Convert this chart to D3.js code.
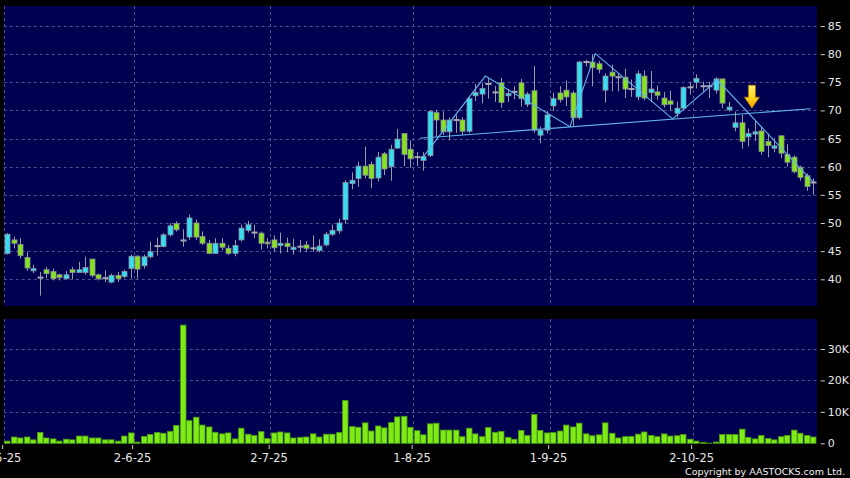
<!DOCTYPE html>
<html><head><meta charset="utf-8">
<script src="https://cdn.jsdelivr.net/npm/d3@7/dist/d3.min.js"></script>
<style>html,body{margin:0;padding:0;background:#000;overflow:hidden}svg{display:block}</style>
</head><body>
<svg id="chart" width="850" height="478"></svg>
<script>
// ---------- data ----------
const openP  = [44.6,47.0,46.2,43.9,41.5,40.3,41.7,41.4,40.8,40.1,41.7,41.2,41.2,43.6,40.8,40.2,39.5,40.7,40.5,41.9,
                44.1,42.4,44.0,45.9,45.8,47.9,49.9,46.9,47.5,50.0,47.6,46.4,44.6,46.4,45.5,44.6,47.0,48.7,48.3,48.2,
                46.6,47.0,46.0,46.4,45.3,45.8,46.1,45.5,45.1,46.1,48.0,48.6,50.6,57.0,57.9,60.1,60.4,58.0,62.3,60.0,
                63.3,65.9,63.1,61.7,61.1,62.0,69.6,68.3,66.2,68.3,68.3,66.3,72.6,72.9,74.7,73.2,74.9,72.6,73.3,74.9,
                71.1,73.5,65.6,66.5,70.8,73.1,73.6,73.1,68.7,78.6,78.6,78.3,73.6,76.8,75.9,75.9,73.8,72.4,76.1,73.2,
                73.3,72.2,71.7,69.5,70.4,74.1,75.0,74.3,74.3,73.6,75.6,70.1,67.0,67.8,65.3,65.8,66.35,64.5,63.3,65.5,
                62.2,61.7,59.9,58.4,57.2];
const highP  = [48.2,47.6,47.3,44.9,42.6,41.3,42.2,41.9,41.0,41.5,42.2,43.1,44.0,43.6,41.0,41.6,41.0,41.3,41.7,44.4,
                44.3,44.4,46.7,47.4,48.2,50.0,50.3,48.9,51.5,50.6,48.5,47.0,47.3,47.3,46.1,47.0,49.7,50.4,49.7,48.5,
                47.3,47.8,48.3,47.4,47.2,47.0,46.8,47.8,47.1,48.4,49.7,50.8,57.6,59.0,60.9,63.6,60.9,62.6,62.6,63.9,
                66.7,65.9,64.7,62.6,62.6,70.1,70.1,69.8,68.75,69.2,68.8,72.4,74.7,74.9,75.7,74.3,75.8,73.8,74.3,75.6,
                73.3,77.9,67.1,69.9,73.1,74.3,75.3,73.5,78.8,79.0,79.9,78.8,76.6,78.1,76.6,77.4,75.5,77.1,77.1,77.0,
                74.4,73.3,73.5,71.6,74.3,75.1,76.4,75.1,75.1,75.9,75.6,71.5,69.8,69.2,66.8,68.2,67.1,65.9,65.1,65.5,
                64.0,62.0,60.2,58.8,57.9];
const lowP   = [44.4,45.5,43.7,41.5,41.1,37.1,40.2,39.8,39.8,40.0,40.0,41.2,40.8,40.3,39.8,39.5,39.3,39.5,40.2,40.2,
                40.1,41.9,43.7,44.2,45.7,47.6,48.5,45.8,47.0,47.0,46.1,44.5,44.5,45.2,44.3,44.1,46.7,48.3,47.3,45.3,
                45.5,44.9,44.6,44.8,44.4,44.8,44.8,44.9,44.8,45.8,47.7,48.1,49.9,56.0,56.4,57.9,56.2,57.4,58.5,57.5,
                63.2,60.1,59.8,60.1,59.3,61.7,65.3,65.6,64.7,66.0,65.6,66.0,71.7,71.25,72.1,71.5,70.5,71.5,72.0,70.7,
                70.6,66.0,64.2,65.9,69.9,71.4,70.8,67.2,68.4,77.8,74.3,76.6,71.4,73.4,73.4,72.2,72.4,71.8,71.8,71.5,
                71.9,70.5,70.0,68.8,70.0,72.8,73.9,73.4,72.2,73.0,70.4,69.8,66.3,63.2,63.6,64.6,62.1,61.7,62.6,61.5,
                60.0,58.8,57.5,55.7,55.0];
const closeP = [48.0,46.4,44.2,42.0,41.9,40.3,41.0,40.1,40.3,40.8,41.2,41.7,42.1,40.7,40.1,40.2,40.7,40.1,41.4,44.1,
                41.8,44.0,44.9,45.9,47.9,49.5,48.8,46.9,50.9,47.5,46.4,44.6,46.4,45.7,44.6,46.0,49.1,49.7,48.3,46.4,
                46.3,45.6,46.4,45.8,45.7,45.8,45.5,45.5,45.9,48.0,48.7,50.0,57.2,57.6,60.1,58.5,57.9,61.7,59.6,63.1,
                64.9,62.2,61.4,61.7,61.8,69.8,68.3,66.2,68.3,68.3,66.3,72.1,73.2,73.9,74.7,73.2,71.4,73.0,73.3,72.1,
                72.9,66.5,66.5,69.2,72.1,71.9,72.4,68.7,78.6,78.6,77.6,77.3,76.1,76.1,75.9,73.8,73.8,76.5,72.2,73.8,
                72.7,71.0,71.1,70.4,74.1,74.1,75.7,74.3,74.3,75.6,71.3,70.6,67.8,64.5,65.9,66.2,62.7,63.75,63.7,62.4,
                60.8,59.1,58.1,56.5,57.2];
// volume in thousands of shares
const volumeK = [0.7,2.0,1.7,2.0,1.1,3.5,1.7,1.4,0.7,1.3,1.1,2.3,2.3,1.7,1.7,1.1,1.1,0.7,2.3,3.3,
                 0.4,2.2,2.8,3.4,3.2,3.8,5.7,37.6,7.2,8.3,5.8,5.2,3.5,3.0,3.3,1.4,4.8,2.9,2.5,3.7,
                 1.5,3.3,3.6,3.3,1.7,1.9,2.0,3.0,2.0,2.9,2.9,3.4,13.6,5.3,5.1,6.5,3.9,5.5,4.9,6.6,
                 8.4,8.6,5.1,4.0,2.7,6.2,6.4,4.2,4.2,4.2,2.1,4.8,3.0,2.1,5.0,3.5,3.8,1.9,1.3,4.1,
                 2.5,9.2,4.1,3.3,3.4,3.9,5.8,5.2,6.4,3.0,2.4,2.7,6.5,3.2,1.7,2.1,2.2,2.9,3.6,2.5,
                 2.1,3.0,2.3,2.4,2.8,1.3,0.7,0.3,0.05,0.4,2.8,2.8,2.8,4.5,1.9,1.4,2.5,1.5,1.1,2.1,
                 2.5,4.2,3.2,2.5,2.0];
const tickLabels = ["2-5-25","2-6-25","2-7-25","1-8-25","1-9-25","2-10-25"];
const tickIndex  = [0,20,41,63,84,106];          // first trading day of each month
const priceTicks = [40,45,50,55,60,65,70,75,80,85];
const volumeTicks = [0,10,20,30];                // thousands
const zigzagIdx = [64,73.6,86.6,90.5,102.4,109.3,124];
const zigzagVal = [61.7,76.1,67.1,80.1,68.5,75.4,57.3];
const necklineIdx = [63.5,123.6];
const necklineVal = [65.05,70.3];
const arrowIdx = 114.6, arrowVal = 70.4;
const copyright = "Copyright by AASTOCKS.com Ltd.";

// ---------- layout ----------
const N = openP.length;
const svg = d3.select("#chart");
const panelL = 3.75, panelR = 816.25;
const pTop = 6, pBot = 306, vTop = 319, vBot = 444;
const BG = "#000050", GRID = "#50508c";
const UP = "#35def0", DOWN = "#86e41e", BORDER = "#8c8c9c", WICK = "#9a9aa6";
const LINE = "#62b4ea";

svg.append("rect").attr("width",850).attr("height",478).attr("fill","#000");

const x = d3.scaleBand().domain(d3.range(N)).range([panelL, panelR]).padding(0);
const step = x.step();
const cx = i => x(Math.floor(i)) + step/2 + (i - Math.floor(i))*step;
const xIdx = d3.scaleLinear().domain([0, N-1]).range([cx(0), cx(N-1)]);
const y = d3.scaleLinear().domain([40,85]).range([279.3,26]);
const yv = d3.scaleLinear().domain([0,30]).range([443.3,349]);

// panels
[[pTop,pBot],[vTop,vBot]].forEach(([t,b])=>{
  svg.append("rect").attr("x",panelL).attr("y",t).attr("width",panelR-panelL+0.75).attr("height",b-t).attr("fill",BG);
});

const gridG = svg.append("g").attr("stroke",GRID).attr("stroke-width",1).attr("stroke-dasharray","3,3").attr("fill","none");
priceTicks.forEach(v=>{
  const yy = Math.round(y(v))+0.5;
  gridG.append("line").attr("x1",panelL).attr("x2",panelR).attr("y1",yy).attr("y2",yy);
});
volumeTicks.filter(v=>v>0).forEach(v=>{
  const yy = Math.round(yv(v))+0.5;
  gridG.append("line").attr("x1",panelL).attr("x2",panelR).attr("y1",yy).attr("y2",yy);
});
tickIndex.forEach(i=>{
  const xx = Math.round(x(i))+0.5;
  gridG.append("line").attr("x1",xx).attr("x2",xx).attr("y1",pTop).attr("y2",pBot);
  gridG.append("line").attr("x1",xx).attr("x2",xx).attr("y1",vTop).attr("y2",vBot);
});

// ---------- candles ----------
const bodyW = 5;
const cg = svg.append("g");
d3.range(N).forEach(i=>{
  const xc = Math.round(cx(i));
  const o = openP[i], c = closeP[i], h = highP[i], l = lowP[i];
  cg.append("line").attr("x1",xc+0.5).attr("x2",xc+0.5)
    .attr("y1",y(h)).attr("y2",y(l)).attr("stroke",WICK).attr("stroke-width",1);
  if (Math.abs(o-c) < 0.05) {
    cg.append("rect").attr("x",xc-2.5).attr("y",y(c)-1).attr("width",bodyW+1).attr("height",2)
      .attr("fill","#a8a8b4");
  } else {
    const top = y(Math.max(o,c)), bot = y(Math.min(o,c));
    cg.append("rect").attr("x",xc-2).attr("y",top).attr("width",bodyW).attr("height",Math.max(1,bot-top))
      .attr("fill", c>o ? UP : DOWN).attr("stroke",BORDER).attr("stroke-width",0.8);
  }
});

// ---------- pattern lines ----------
const lineGen = d3.line().x(d=>xIdx(d[0])).y(d=>y(d[1]));
svg.append("path").datum(d3.zip(zigzagIdx,zigzagVal)).attr("d",lineGen)
  .attr("fill","none").attr("stroke",LINE).attr("stroke-width",1.1);
svg.append("path").datum(d3.zip(necklineIdx,necklineVal)).attr("d",lineGen)
  .attr("fill","none").attr("stroke",LINE).attr("stroke-width",1.1);

// arrow
const defs = svg.append("defs");
const grad = defs.append("linearGradient").attr("id","arrowGrad").attr("x1",0).attr("x2",0).attr("y1",0).attr("y2",1);
grad.append("stop").attr("offset","0%").attr("stop-color","#fff27a");
grad.append("stop").attr("offset","55%").attr("stop-color","#ffd21a");
grad.append("stop").attr("offset","100%").attr("stop-color","#f0a000");
const ax = xIdx(arrowIdx), ay = y(arrowVal);
svg.append("path")
  .attr("d",`M${ax-3.5},${ay-23} L${ax+3.5},${ay-23} L${ax+3.5},${ay-11} L${ax+7.5},${ay-11} L${ax},${ay} L${ax-7.5},${ay-11} L${ax-3.5},${ay-11} Z`)
  .attr("fill","url(#arrowGrad)").attr("stroke","#b07a00").attr("stroke-width",0.8);

// ---------- volume ----------
const vg = svg.append("g");
d3.range(N).forEach(i=>{
  const xc = Math.round(cx(i));
  const top = yv(volumeK[i]);
  vg.append("rect").attr("x",xc-2.5).attr("y",top).attr("width",5.5).attr("height",Math.max(0,443.3-top))
    .attr("fill","#7eea16").attr("stroke","#4a9a10").attr("stroke-width",0.8);
});

// ---------- axes ----------
const FONT = "DejaVu Sans, Verdana, sans-serif";
const yAxis = d3.axisRight(y).tickValues(priceTicks).tickSize(4).tickPadding(3);
const gy = svg.append("g").attr("transform",`translate(${panelR+4.5},0)`).call(yAxis);
const vAxis = d3.axisRight(yv).tickValues(volumeTicks).tickSize(4).tickPadding(3)
  .tickFormat(d=> d===0 ? "0" : d+"K");
const gv = svg.append("g").attr("transform",`translate(${panelR+4.5},0)`).call(vAxis);
[gy,gv].forEach(g=>{
  g.select(".domain").remove();
  g.selectAll(".tick line").attr("stroke","#cfcfcf");
  g.selectAll(".tick text").attr("fill","#e6e6e6").attr("font-family",FONT).attr("font-size",11);
});

const xAxis = d3.axisBottom(xIdx).tickValues(tickIndex.map(i=>i-0.75)).tickSize(4).tickPadding(5)
  .tickFormat((d,k)=>tickLabels[k]);
const gx = svg.append("g").attr("transform",`translate(0,${vBot+1})`).call(xAxis);
gx.select(".domain").remove();
gx.selectAll(".tick line").attr("stroke","#cfcfcf");
gx.selectAll(".tick text").attr("fill","#e6e6e6").attr("font-family",FONT).attr("font-size",11.5);

svg.append("text").attr("x",845).attr("y",475).attr("text-anchor","end")
  .attr("fill","#f0f0f0").attr("font-family",FONT).attr("font-size",9.5).text(copyright);
</script>
</body></html>
